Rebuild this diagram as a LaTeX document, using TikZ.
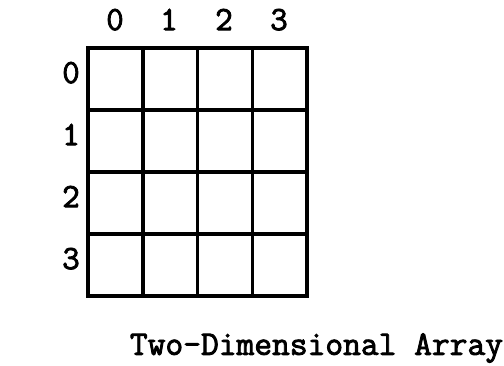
\documentclass[tikz,border=0pt]{standalone}
\usepackage{fontspec}
\setmonofont{Latin Modern Mono}[AutoFakeBold=2.5]
\begin{document}
\begin{tikzpicture}[x=1pt,y=-1pt,
  gridline/.style={line width=3.5pt},
  lbl/.style={font=\ttfamily\bfseries\fontsize{34}{34}\selectfont, inner sep=0pt, text height=0.62em, text depth=0pt},
  ttl/.style={font=\ttfamily\bfseries\fontsize{34.5}{34.5}\selectfont, inner sep=0pt}]
\useasboundingbox (0,0) rectangle (504,366);
\foreach \i/\x in {0/88,1/143,2/197.5,3/252.5,4/307}
  \draw[gridline] (\x,48) -- (\x,296);
\foreach \j/\y in {0/48,1/110,2/172,3/234,4/296}
  \draw[gridline,line cap=rect] (88,\y) -- (307,\y);
\foreach \k/\x in {0/115,1/169,2/224,3/279}
  \node[lbl] (c\k) at (\x,27) {\k};
\foreach \k/\y in {0/80,1/142,2/204,3/266}
  \node[lbl] (r\k) at (71,\y) {\k};
\node[ttl] (title) at (316.5,348) {Two-Dimensional Array};
\end{tikzpicture}
\end{document}
